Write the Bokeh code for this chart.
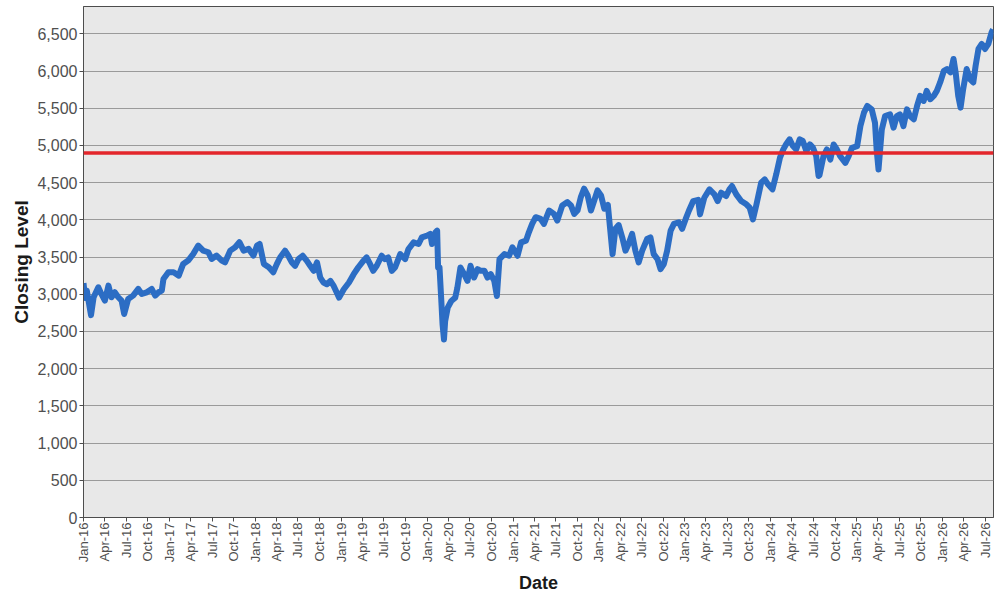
import pandas as pd
from bokeh.plotting import figure
from bokeh.models import (Range1d, Span, MonthsTicker, DatetimeTickFormatter,
                          NumeralTickFormatter, SingleIntervalTicker)
from bokeh.embed import file_html
from bokeh.resources import INLINE

# ---------------- data ----------------
dates = [
    "2016-01-01", "2016-01-08", "2016-01-15", "2016-02-02", "2016-02-13", "2016-03-04",
    "2016-03-17", "2016-04-01", "2016-04-16", "2016-04-29", "2016-05-13", "2016-05-28",
    "2016-06-11", "2016-06-22", "2016-07-09", "2016-07-30", "2016-08-21", "2016-09-05",
    "2016-09-26", "2016-10-17", "2016-11-01", "2016-11-15", "2016-11-29", "2016-12-06",
    "2016-12-27", "2017-01-18", "2017-02-09", "2017-02-28", "2017-03-21", "2017-04-12",
    "2017-05-03", "2017-05-24", "2017-06-15", "2017-06-29", "2017-07-20", "2017-08-11",
    "2017-08-25", "2017-09-16", "2017-10-07", "2017-10-25", "2017-11-12", "2017-12-03",
    "2017-12-24", "2018-01-08", "2018-01-19", "2018-02-06", "2018-02-27", "2018-03-18",
    "2018-04-02", "2018-04-16", "2018-05-07", "2018-05-21", "2018-06-05", "2018-06-19",
    "2018-07-03", "2018-07-21", "2018-08-08", "2018-08-22", "2018-09-06", "2018-09-20",
    "2018-10-04", "2018-10-18", "2018-11-01", "2018-11-16", "2018-11-30", "2018-12-13",
    "2018-12-23", "2019-01-12", "2019-02-03", "2019-02-23", "2019-03-14", "2019-04-05",
    "2019-04-19", "2019-05-04", "2019-05-17", "2019-06-01", "2019-06-22", "2019-07-06",
    "2019-07-20", "2019-08-04", "2019-08-18", "2019-09-09", "2019-09-30", "2019-10-14",
    "2019-11-05", "2019-11-26", "2019-12-10", "2020-01-01", "2020-01-15", "2020-01-22",
    "2020-02-06", "2020-02-13", "2020-02-17", "2020-02-23", "2020-03-01", "2020-03-07",
    "2020-03-13", "2020-03-18", "2020-03-29", "2020-04-13", "2020-04-30", "2020-05-09",
    "2020-05-22", "2020-06-07", "2020-06-21", "2020-07-04", "2020-07-19", "2020-08-03",
    "2020-08-16", "2020-09-01", "2020-09-14", "2020-09-28", "2020-10-13", "2020-10-24",
    "2020-11-04", "2020-11-25", "2020-12-15", "2020-12-29", "2021-01-20", "2021-02-04",
    "2021-02-25", "2021-03-09", "2021-03-23", "2021-04-07", "2021-04-28", "2021-05-12",
    "2021-06-03", "2021-06-24", "2021-07-08", "2021-07-29", "2021-08-20", "2021-09-04",
    "2021-09-18", "2021-10-02", "2021-10-16", "2021-10-30", "2021-11-14", "2021-11-28",
    "2021-12-12", "2021-12-26", "2022-01-10", "2022-01-24", "2022-02-08", "2022-02-17",
    "2022-02-28", "2022-03-12", "2022-03-26", "2022-04-10", "2022-04-24", "2022-05-07",
    "2022-05-22", "2022-06-05", "2022-06-19", "2022-07-04", "2022-07-25", "2022-08-08",
    "2022-08-22", "2022-09-07", "2022-09-20", "2022-10-04", "2022-10-18", "2022-11-02",
    "2022-11-16", "2022-12-07", "2022-12-21", "2023-01-05", "2023-01-19", "2023-02-06",
    "2023-02-27", "2023-03-07", "2023-03-25", "2023-04-16", "2023-05-07", "2023-05-21",
    "2023-06-05", "2023-06-26", "2023-07-10", "2023-07-21", "2023-08-08", "2023-08-29",
    "2023-09-20", "2023-10-04", "2023-10-18", "2023-11-02", "2023-11-22", "2023-12-07",
    "2023-12-21", "2024-01-09", "2024-01-25", "2024-02-10", "2024-02-24", "2024-03-07",
    "2024-03-22", "2024-04-05", "2024-04-19", "2024-05-04", "2024-05-17", "2024-06-01",
    "2024-06-16", "2024-06-29", "2024-07-13", "2024-07-23", "2024-07-27", "2024-08-13",
    "2024-08-27", "2024-09-11", "2024-09-25", "2024-10-09", "2024-10-23", "2024-11-14",
    "2024-11-28", "2024-12-12", "2025-01-03", "2025-01-17", "2025-02-01", "2025-02-15",
    "2025-03-06", "2025-03-20", "2025-03-27", "2025-04-04", "2025-04-11", "2025-04-18",
    "2025-05-02", "2025-05-23", "2025-06-07", "2025-06-21", "2025-07-04", "2025-07-19",
    "2025-08-03", "2025-08-16", "2025-09-01", "2025-09-15", "2025-09-28", "2025-10-13",
    "2025-10-26", "2025-11-10", "2025-11-25", "2025-12-08", "2025-12-22", "2026-01-07",
    "2026-01-20", "2026-02-04", "2026-02-17", "2026-02-26", "2026-03-09", "2026-03-19",
    "2026-03-30", "2026-04-14", "2026-04-28", "2026-05-12", "2026-05-22", "2026-06-03",
    "2026-06-17", "2026-07-01", "2026-07-15", "2026-07-29", "2026-08-04",
]

closing = [
    3150, 2950, 3050, 2720, 2960, 3094,
    3005, 2915, 3117, 2960, 3027, 2960,
    2915, 2735, 2937, 2982, 3072, 3005,
    3027, 3072, 2982, 3027, 3050, 3206,
    3296, 3296, 3251, 3408, 3453, 3543,
    3655, 3587, 3565, 3475, 3520, 3453,
    3430, 3587, 3632, 3700, 3587, 3610,
    3520, 3655, 3677, 3408, 3363, 3296,
    3405, 3495, 3586, 3518, 3428, 3383,
    3473, 3518, 3450, 3383, 3315, 3428,
    3225, 3158, 3135, 3180, 3113, 3023,
    2955, 3068, 3158, 3270, 3360, 3450,
    3495, 3405, 3315, 3383, 3518, 3473,
    3495, 3315, 3360, 3540, 3473, 3608,
    3698, 3676, 3766, 3788, 3811, 3676,
    3833, 3856, 3360, 3360, 2955, 2594,
    2392, 2640, 2820, 2910, 2955, 3090,
    3360, 3270, 3180, 3383, 3225, 3338,
    3315, 3315, 3225, 3270, 3180, 2977,
    3473, 3540, 3518, 3631, 3518, 3698,
    3721, 3833, 3946, 4036, 4013, 3946,
    4126, 4081, 3991, 4194, 4239, 4194,
    4081, 4126, 4306, 4419, 4329, 4126,
    4261, 4396, 4329, 4149, 4200, 3900,
    3540, 3880, 3930, 3766, 3586, 3676,
    3811, 3586, 3428, 3586, 3743, 3766,
    3540, 3473, 3338, 3405, 3586, 3856,
    3946, 3968, 3880, 4013, 4126, 4253,
    4270, 4074, 4298, 4410, 4343, 4253,
    4366, 4321, 4410, 4455, 4343, 4253,
    4209, 4164, 4007, 4209, 4500, 4545,
    4478, 4410, 4612, 4836, 4948, 5016,
    5083, 4993, 4948, 5083, 5061, 4926,
    5016, 4971, 4859, 4590, 4600, 4856,
    4946, 4811, 5013, 4946, 4856, 4766,
    4856, 4968, 4991, 5261, 5441, 5531,
    5486, 5306, 4946, 4676, 4946, 5216,
    5396, 5419, 5239, 5396, 5419, 5261,
    5486, 5396, 5351, 5531, 5667, 5599,
    5734, 5622, 5667, 5734, 5847, 6004,
    6027, 5982, 6162, 5982, 5667, 5509,
    5757, 6027, 5892, 5847, 6072, 6297,
    6365, 6297, 6365, 6522, 6560,
]

reference_level = 4900

x_start = "2016-01-01"
x_end = "2026-08-06"
y_start = 0
y_end = 6868
y_tick_step = 500

# ---------------- figure ----------------
FONT = "Liberation Sans"

p = figure(width=998, height=600, x_axis_type="datetime",
           output_backend="svg", toolbar_location=None,
           x_range=Range1d(pd.Timestamp(x_start), pd.Timestamp(x_end)),
           y_range=Range1d(y_start, y_end),
           min_border_left=83, min_border_right=5,
           min_border_top=6, min_border_bottom=83)

p.background_fill_color = "#E8E8E8"
p.border_fill_color = "white"
p.outline_line_color = "#4d4d4d"
p.outline_line_width = 1

p.xgrid.grid_line_color = None
p.ygrid.grid_line_color = "#9a9a9a"
p.ygrid.grid_line_width = 1

p.line(x=pd.to_datetime(dates), y=closing, line_width=6,
       line_color="#2C6DC4", line_join="round")

p.add_layout(Span(location=reference_level, dimension="width",
                  line_color="#E3262B", line_width=3.5))

# x axis
xa = p.xaxis[0]
xa.ticker = MonthsTicker(months=[0, 3, 6, 9])
xa.formatter = DatetimeTickFormatter(days="%b-%y", months="%b-%y", years="%b-%y")
xa.major_label_orientation = 1.5707963
xa.axis_label = "Date"

# y axis
ya = p.yaxis[0]
ya.ticker = SingleIntervalTicker(interval=y_tick_step)
ya.formatter = NumeralTickFormatter(format="0,0")
ya.axis_label = "Closing Level"

for ax in (xa, ya):
    ax.axis_line_color = "#4d4d4d"
    ax.major_tick_line_color = "#4d4d4d"
    ax.major_tick_out = 4
    ax.major_tick_in = 0
    ax.minor_tick_line_color = None
    ax.major_label_text_font = FONT
    ax.major_label_text_color = "#4f4f4f"
    ax.axis_label_text_font = FONT
    ax.axis_label_text_font_style = "bold"
    ax.axis_label_text_color = "#1a1a1a"

xa.major_label_text_font_size = "13px"
xa.major_label_standoff = 1
xa.axis_label_text_font_size = "18px"
xa.axis_label_standoff = 8
ya.major_label_text_font_size = "16px"
ya.major_label_standoff = 2
ya.axis_label_text_font_size = "19px"
ya.axis_label_standoff = 2

open("out.html", "w").write(file_html(p, INLINE))
